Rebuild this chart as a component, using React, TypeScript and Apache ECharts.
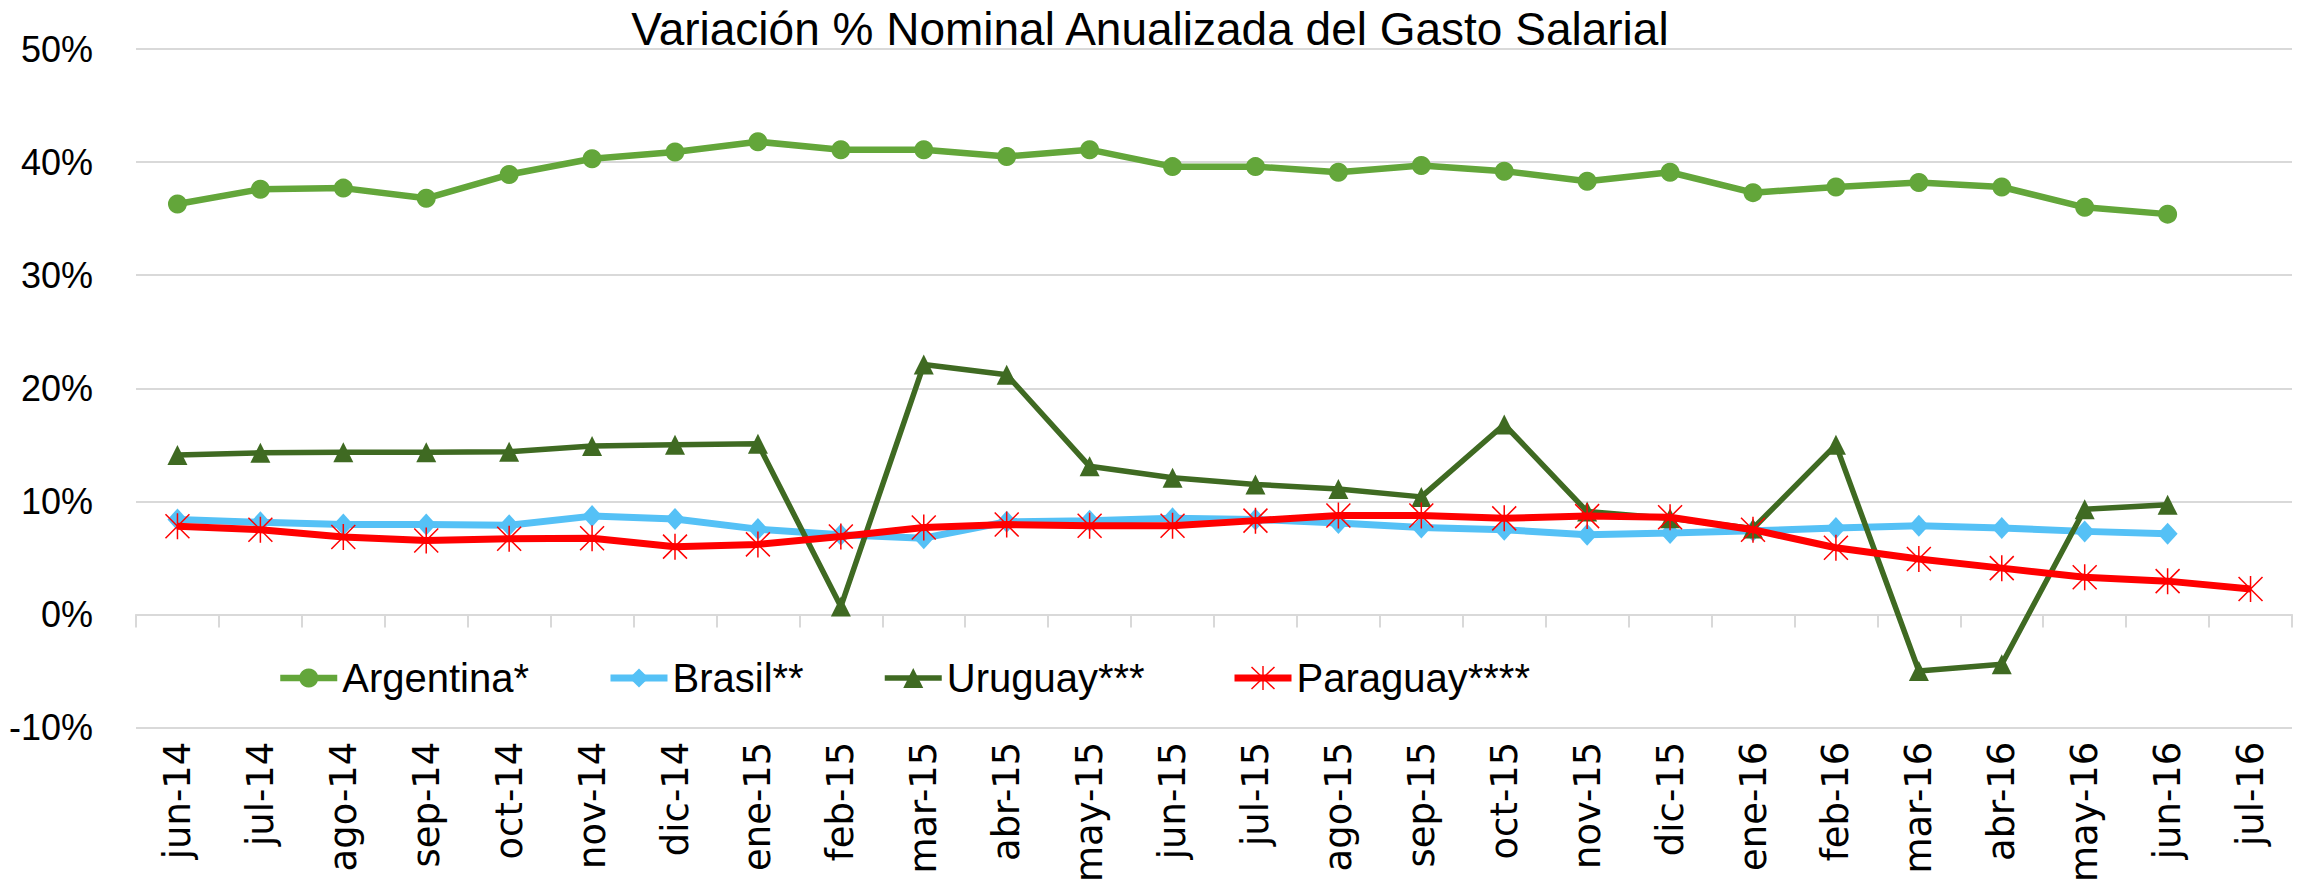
import React, { useEffect, useRef } from "react";
import * as echarts from "echarts";

const categories = [
  "jun-14", "jul-14", "ago-14", "sep-14", "oct-14", "nov-14", "dic-14", "ene-15",
  "feb-15", "mar-15", "abr-15", "may-15", "jun-15", "jul-15", "ago-15", "sep-15",
  "oct-15", "nov-15", "dic-15", "ene-16", "feb-16", "mar-16", "abr-16", "may-16",
  "jun-16", "jul-16",
];

const argentina = [
  36.3, 37.6, 37.7, 36.8, 38.9, 40.3, 40.9, 41.8, 41.1, 41.1, 40.5, 41.1, 39.6,
  39.6, 39.1, 39.7, 39.2, 38.3, 39.1, 37.3, 37.8, 38.2, 37.8, 36.0, 35.4, null,
];
const brasil = [
  8.4, 8.15, 7.95, 7.95, 7.9, 8.7, 8.45, 7.55, 7.05, 6.75, 8.2, 8.3, 8.5, 8.4,
  8.1, 7.7, 7.5, 7.05, 7.2, 7.4, 7.65, 7.85, 7.65, 7.35, 7.15, null,
];
const uruguay = [
  14.1, 14.3, 14.35, 14.35, 14.4, 14.9, 15.0, 15.1, 0.7, 22.1, 21.2, 13.1, 12.1,
  11.5, 11.1, 10.4, 16.8, 9.1, 8.5, 7.6, 15.0, -5.0, -4.4, 9.3, 9.7, null,
];
const paraguay = [
  7.8, 7.5, 6.85, 6.55, 6.7, 6.75, 6.0, 6.2, 6.9, 7.7, 7.95, 7.85, 7.85, 8.3,
  8.75, 8.75, 8.5, 8.7, 8.6, 7.5, 5.9, 4.9, 4.1, 3.3, 2.95, 2.25,
];

const seriesNames = ["Argentina*", "Brasil**", "Uruguay***", "Paraguay****"];

const yMin = -10;
const yMax = 50;
const yStep = 10;

const TITLE = "Variación % Nominal Anualizada del Gasto Salarial";

const ASTERISK =
  "path://M11.25 0 L12.75 0 L12.75 26 L11.25 26 Z " +
  "M0.53 0.47 L24.53 24.47 L23.47 25.53 L-0.53 1.53 Z " +
  "M24.53 1.53 L0.53 25.53 L-0.53 24.47 L23.47 0.47 Z";

const SANS = "'Liberation Sans', Arial, sans-serif";

const COLORS = ["#63A63A", "#55C1F6", "#3F6A22", "#FF0000"];
const WIDTHS = [6.5, 7, 5.5, 7];

export default function App() {
  const ref = useRef<HTMLDivElement>(null);

  useEffect(() => {
    if (!ref.current) return;
    const chart = echarts.init(ref.current, null, { renderer: "svg" });

    const legendBase = (i: number, left: number, itemHeight: number) => ({
      data: [seriesNames[i]],
      left,
      top: 678 - 20,
      height: 40,
      padding: 0,
      itemWidth: 57,
      itemHeight,
      itemGap: 0,
      selectedMode: false,
      lineStyle: { width: WIDTHS[i], color: COLORS[i] },
      textStyle: { fontSize: 40, fontFamily: SANS, color: "#000", lineHeight: 40 },
    });

    chart.setOption({
      animation: false,
      backgroundColor: "#fff",
      graphic: [
        {
          type: "text",
          x: 1150,
          y: 29,
          style: {
            text: TITLE,
            fontSize: 46,
            fontFamily: SANS,
            fill: "#000",
            align: "center",
            verticalAlign: "middle",
          },
        },
      ],
      legend: [
        legendBase(0, 277, 24),
        legendBase(1, 607, 24),
        legendBase(2, 882, 25),
        legendBase(3, 1231, 30),
      ],
      grid: { left: 136, right: 13, top: 49, bottom: 156, containLabel: false },
      xAxis: [
        {
          type: "category",
          data: categories,
          position: "bottom",
          boundaryGap: true,
          axisLine: { show: false, onZero: false },
          axisTick: { show: false },
          axisLabel: {
            interval: 0,
            rotate: 90,
            margin: 14,
            fontSize: 37,
            fontFamily: "'DejaVu Sans', sans-serif",
            color: "#000",
          },
          splitLine: { show: false },
        },
        {
          type: "category",
          data: categories,
          position: "bottom",
          boundaryGap: true,
          axisLine: { show: true, onZero: true, lineStyle: { color: "#d9d9d9", width: 2 } },
          axisTick: { show: true, inside: false, length: 13, lineStyle: { color: "#d9d9d9", width: 2 } },
          axisLabel: { show: false },
          splitLine: { show: false },
        },
      ],
      yAxis: {
        type: "value",
        min: yMin,
        max: yMax,
        interval: yStep,
        axisLine: { show: false },
        axisTick: { show: false },
        axisLabel: {
          formatter: "{value}%",
          margin: 43,
          fontSize: 36,
          fontFamily: SANS,
          color: "#000",
        },
        splitLine: { lineStyle: { color: "#d9d9d9", width: 2 } },
      },
      series: [
        {
          name: seriesNames[0],
          type: "line",
          data: argentina,
          symbol: "circle",
          symbolSize: 19,
          lineStyle: { color: COLORS[0], width: WIDTHS[0] },
          itemStyle: { color: COLORS[0] },
          z: 2,
        },
        {
          name: seriesNames[1],
          type: "line",
          data: brasil,
          symbol: "diamond",
          symbolSize: [20, 22],
          lineStyle: { color: COLORS[1], width: WIDTHS[1] },
          itemStyle: { color: COLORS[1] },
          z: 3,
        },
        {
          name: seriesNames[2],
          type: "line",
          data: uruguay,
          symbol: "triangle",
          symbolSize: 20,
          lineStyle: { color: COLORS[2], width: WIDTHS[2] },
          itemStyle: { color: COLORS[2] },
          z: 4,
        },
        {
          name: seriesNames[3],
          type: "line",
          data: paraguay,
          symbol: ASTERISK,
          symbolSize: [25, 26],
          symbolKeepAspect: false,
          lineStyle: { color: COLORS[3], width: WIDTHS[3] },
          itemStyle: { color: COLORS[3] },
          z: 5,
        },
      ],
    });

    return () => chart.dispose();
  }, []);

  return (
    <div
      ref={ref}
      style={{ position: "fixed", left: 0, top: 0, width: 2305, height: 885, background: "#fff" }}
    />
  );
}
